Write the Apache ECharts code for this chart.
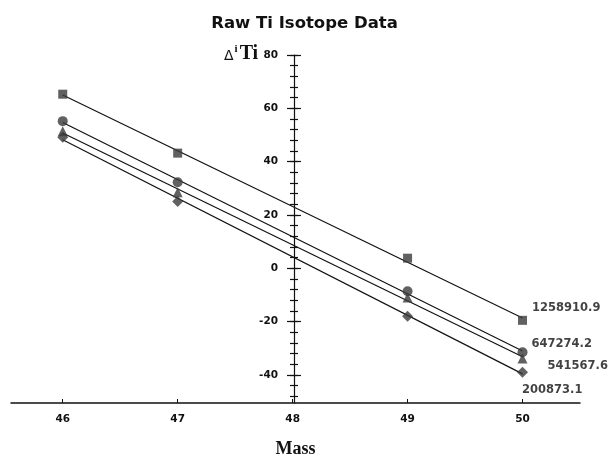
<!DOCTYPE html>
<html>
<head>
<meta charset="utf-8">
<script src="https://cdn.jsdelivr.net/npm/echarts@6/dist/echarts.min.js"></script>
<style>
  html, body { margin: 0; padding: 0; background: #fff; }
  #chart { width: 609px; height: 457px; }
</style>
</head>
<body>
<div id="chart"></div>
<script>
const masses = [46, 47, 49, 50];
const runNames = ['1258910.9', '647274.2', '541567.6', '200873.1'];
const squareVals = [65.3, 43.2, 3.8, -19.5];
const circleVals = [55.2, 32.3, -8.6, -31.5];
const triangleVals = [51.4, 28.5, -10.9, -33.8];
const diamondVals = [49.2, 25.1, -18.0, -39.0];

const xTicks = [46, 47, 48, 49, 50];
const yTicks = [-40, -20, 0, 20, 40, 60, 80];
const yMinorTicks = [-48, -44, -40, -36, -32, -28, -24, -20, -16, -12, -8, -4, 0, 4, 8, 12, 16, 20, 24, 28, 32, 36, 40, 44, 48, 52, 56, 60, 64, 68, 72, 76, 80];

const runs = [squareVals, circleVals, triangleVals, diamondVals];
// marker look and label placement for each run
const looks = [
  { symbol: 'rect', size: 9, offset: [0, -12] },
  { symbol: 'circle', size: 10, offset: [-1, -8] },
  { symbol: 'triangle', size: 10, offset: [15, 8] },
  { symbol: 'diamond', size: 11, offset: [-11, 18] }
];

const ink = '#111';
const markColor = '#3a3a3a';
const boldSans = 'DejaVu Sans';

// least squares line through the points of one run
function fit(xs, ys) {
  const n = xs.length;
  const mx = xs.reduce((a, b) => a + b, 0) / n;
  const my = ys.reduce((a, b) => a + b, 0) / n;
  let sxy = 0, sxx = 0;
  for (let i = 0; i < n; i++) {
    sxy += (xs[i] - mx) * (ys[i] - my);
    sxx += (xs[i] - mx) * (xs[i] - mx);
  }
  const slope = sxy / sxx;
  return x => my + slope * (x - mx);
}

const series = [];
runs.forEach((vals, k) => {
  const f = fit(masses, vals);
  const x0 = masses[0], x1 = masses[masses.length - 1];
  series.push({
    type: 'line',
    data: [[x0, f(x0)], [x1, f(x1)]],
    showSymbol: false,
    symbol: 'none',
    lineStyle: { color: ink, width: 1.2 },
    z: 2,
    silent: true
  });
  series.push({
    type: 'scatter',
    symbol: looks[k].symbol,
    symbolSize: looks[k].size,
    itemStyle: { color: markColor },
    z: 3,
    data: masses.map((m, i) => {
      if (i !== masses.length - 1) return [m, vals[i]];
      return {
        value: [m, vals[i]],
        label: {
          show: true,
          position: 'right',
          offset: looks[k].offset,
          formatter: runNames[k],
          color: ink,
          fontFamily: boldSans,
          fontWeight: 'bold',
          fontSize: 11.5
        }
      };
    })
  });
});

const yRange = { min: -50.5, max: 80 };
const axisX = 294 - 11; // y axis sits at mass 48

function yAxisLayer(ticks, len, inside, withLine, withLabels) {
  return {
    type: 'value',
    position: 'left',
    offset: -axisX,
    min: yRange.min,
    max: yRange.max,
    splitLine: { show: false },
    axisLine: { show: withLine, lineStyle: { color: ink, width: 1.2 } },
    axisTick: { show: true, customValues: ticks, length: len, inside: inside, lineStyle: { color: ink, width: 1.2 } },
    axisLabel: withLabels ? {
      show: true, customValues: yTicks, margin: 16,
      color: ink, fontFamily: boldSans, fontWeight: 'bold', fontSize: 10.5
    } : { show: false }
  };
}

const chart = echarts.init(document.getElementById('chart'));
chart.setOption({
  animation: false,
  backgroundColor: '#fff',
  title: {
    text: 'Raw Ti Isotope Data',
    left: 'center',
    top: 10,
    padding: [5, 13, 5, 0],
    textStyle: { color: ink, fontFamily: boldSans, fontWeight: 'bold', fontSize: 16.5 }
  },
  grid: { left: 11, right: 29, top: 55, bottom: 54, outerBoundsMode: 'none', containLabel: false },
  xAxis: {
    type: 'value',
    min: 45.55,
    max: 50.5,
    splitLine: { show: false },
    axisLine: { onZero: false, lineStyle: { color: ink, width: 1.5 } },
    axisTick: { customValues: xTicks, inside: true, length: 4, lineStyle: { color: ink } },
    axisLabel: {
      customValues: xTicks, margin: 11,
      color: ink, fontFamily: boldSans, fontWeight: 'bold', fontSize: 10.5
    },
    name: 'Mass',
    nameLocation: 'middle',
    nameGap: 37,
    nameTextStyle: { color: ink, fontFamily: 'Liberation Serif', fontWeight: 'bold', fontSize: 18 }
  },
  yAxis: [
    yAxisLayer(yTicks, 7, false, true, true),
    yAxisLayer(yTicks, 7, true, false, false),
    yAxisLayer(yMinorTicks, 4, false, false, false),
    yAxisLayer(yMinorTicks, 4, true, false, false)
  ],
  graphic: [{
    type: 'text',
    left: 224,
    top: 44,
    style: {
      text: '{d|Δ}{s|i}{t|Ti}',
      rich: {
        d: { fontFamily: 'DejaVu Sans', fontSize: 14, fill: ink, verticalAlign: 'bottom', padding: [0, 1, 1, 0] },
        s: { fontFamily: 'Liberation Serif', fontWeight: 'bold', fontSize: 11, fill: ink, verticalAlign: 'top', padding: [0, 2, 9, 0] },
        t: { fontFamily: 'Liberation Serif', fontWeight: 'bold', fontSize: 20, fill: ink }
      }
    }
  }],
  series: series
});
</script>
</body>
</html>
